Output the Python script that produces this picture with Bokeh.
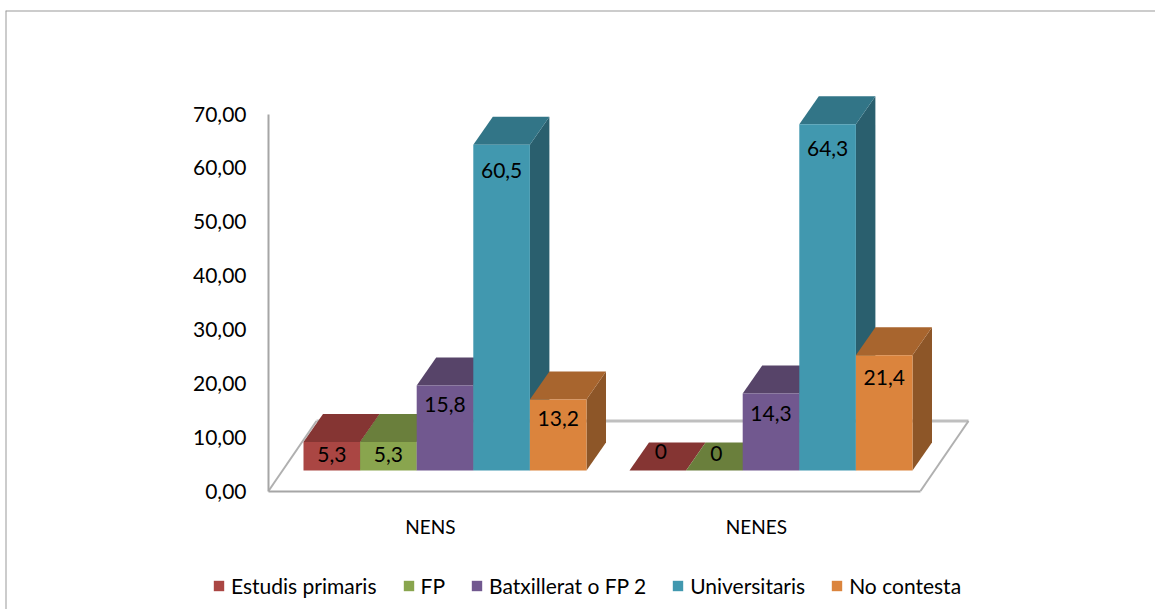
from bokeh.core.properties import value
from bokeh.embed import file_html
from bokeh.models import FixedTicker, Legend, LegendItem, Span
from bokeh.plotting import figure
from bokeh.resources import INLINE

categories = ["NENS", "NENES"]
series = ["Estudis primaris", "FP", "Batxillerat o FP 2", "Universitaris", "No contesta"]
nens = [5.3, 5.3, 15.8, 60.5, 13.2]
nenes = [0, 0, 14.3, 64.3, 21.4]
y_ticks = [0, 10, 20, 30, 40, 50, 60, 70]
y_tick_labels = ["0,00", "10,00", "20,00", "30,00", "40,00", "50,00", "60,00", "70,00"]

front = ["#AA4643", "#89A54E", "#71588F", "#4198AF", "#DB843D"]
top = ["#853533", "#6A7F3C", "#574469", "#327587", "#A8652E"]
side = ["#6E2B2A", "#566733", "#463658", "#2A5F6E", "#8D5628"]
FONT = "Lato"

# layout, in the chart's own units
W, H = 1155, 609
L, R, T, B = 5, 1155, 10, 609   # outer frame in pixels
X0, XS = 430.0, 326.0           # px of category 0, px per category
Y0, YS = 490.5, 5.385           # px of value 0, px per value
bar_w = 56.6 / XS
bar_shift = 14.5 / XS
depth_x, depth_y = 19.5 / XS, 28.0 / YS
base = 20.5 / YS
floor_x, floor_y = 48.0 / XS, 70.0 / YS
label_drop = [[13, 13, 19, 26, 19], [-19, -17, 20, 24, 22]]
label_dx = [[0, 0, 0, 0, 0], [3, 2, 0, 0, 0]]

p = figure(
    width=W, height=H, output_backend="svg", toolbar_location=None,
    x_range=((L - X0) / XS, (R - X0) / XS),
    y_range=((Y0 - B) / YS, (Y0 - T) / YS),
    min_border_left=L, min_border_right=W - R, min_border_top=T, min_border_bottom=H - B,
    background_fill_color="white", border_fill_color="white",
    outline_line_color=None,
)
p.grid.visible = False

# only the top and left edges of the chart's frame are in view
p.add_layout(Span(location=(Y0 - T) / YS, dimension="width", line_color="#9a9a9a", line_width=2))
p.add_layout(Span(location=(L - X0) / XS, dimension="height", line_color="#9a9a9a", line_width=2))

# floor
xl, xr = (268 - X0) / XS, (920 - X0) / XS
p.line([xl + floor_x, xr + floor_x], [floor_y, floor_y], line_color="#bfbfbf", line_width=3)
p.line([xl, xl + floor_x], [0, floor_y], line_color="#b0b0b0", line_width=2)
p.line([xr, xr + floor_x], [0, floor_y], line_color="#b0b0b0", line_width=2)

swatches = []
for g, vals in enumerate([nens, nenes]):
    for i, v in enumerate(vals):
        x1 = g + bar_shift + (i - 2.5) * bar_w
        x2 = x1 + bar_w
        y1, y2 = base, base + v
        dx, dy = depth_x, depth_y
        p.patch([x2, x2 + dx, x2 + dx, x2], [y1, y1 + dy, y2 + dy, y2], fill_color=side[i], line_color=None)
        p.patch([x1, x2, x2 + dx, x1 + dx], [y2, y2, y2 + dy, y2 + dy], fill_color=top[i], line_color=None)
        r = p.patch([x1, x2, x2, x1], [y1, y1, y2, y2], fill_color=front[i], line_color=None)
        if g == 0:
            swatches.append(r)

for g, vals in enumerate([nens, nenes]):
    for i, v in enumerate(vals):
        x = g + bar_shift + (i - 2) * bar_w
        p.text([x], [base + v], text=[str(v).replace(".", ",")],
               x_offset=label_dx[g][i], y_offset=label_drop[g][i],
               text_font=value(FONT), text_font_size="21px", text_color="#000000",
               text_align="center", text_baseline="middle")

# axes sit inside the frame
yax = p.yaxis[0]
yax.fixed_location = (268 - X0) / XS
yax.bounds = (0, 70)
yax.ticker = FixedTicker(ticks=y_ticks)
yax.major_label_overrides = dict(zip(y_ticks, y_tick_labels))
yax.major_tick_line_color = None
yax.minor_tick_line_color = None
yax.axis_line_color = "#a6a6a6"
yax.axis_line_width = 2
yax.major_label_standoff = 16
yax.major_label_text_font = FONT
yax.major_label_text_font_size = "21px"
yax.major_label_text_color = "#000000"

xax = p.xaxis[0]
xax.fixed_location = 0
xax.bounds = (xl, xr)
xax.ticker = FixedTicker(ticks=list(range(len(categories))))
xax.major_label_overrides = dict(enumerate(categories))
xax.major_tick_line_color = None
xax.minor_tick_line_color = None
xax.axis_line_color = "#a6a6a6"
xax.axis_line_width = 2
xax.major_label_standoff = 18
xax.major_label_text_font = FONT
xax.major_label_text_font_size = "19px"
xax.major_label_text_color = "#000000"

legend = Legend(
    items=[LegendItem(label=s, renderers=[r]) for s, r in zip(series, swatches)],
    orientation="horizontal", location=(212 - L, B - 598),
    glyph_width=13, glyph_height=13, label_standoff=6, spacing=25,
    padding=0, margin=0, border_line_color=None, background_fill_alpha=0,
    label_text_font=FONT, label_text_font_size="21px", label_text_color="#000000",
)
p.add_layout(legend, "center")

open("out.html", "w").write(file_html(p, INLINE))
